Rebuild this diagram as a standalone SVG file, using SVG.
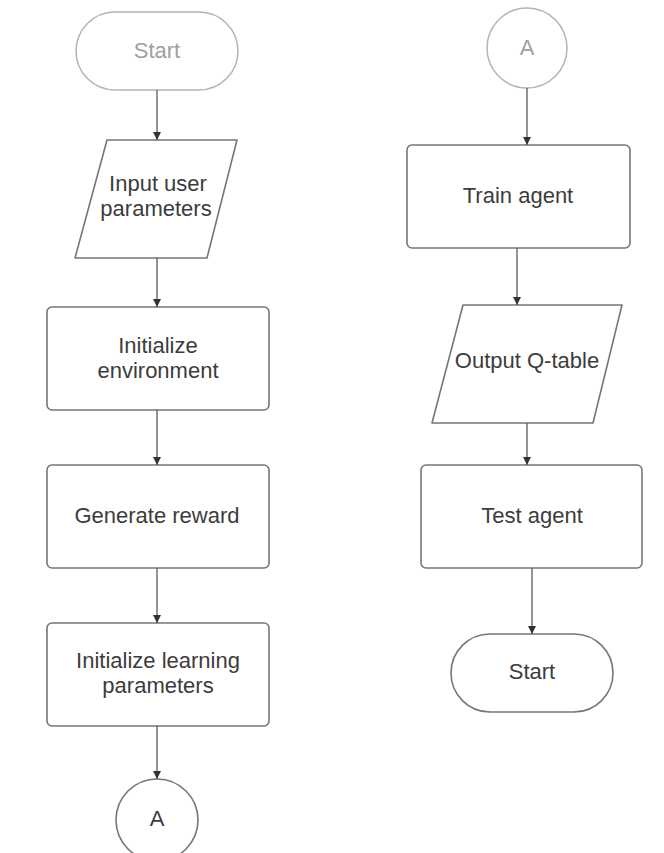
<svg xmlns="http://www.w3.org/2000/svg" width="664" height="853" viewBox="0 0 664 853">
  <style>
    .shape { fill: #ffffff; stroke: #767676; stroke-width: 1.6; }
    .faint { fill: #ffffff; stroke: #b4b4b4; stroke-width: 1.5; }
    .label { font-family: "Liberation Sans", Arial, sans-serif; font-size: 22px; fill: #3c3c3c; text-anchor: middle; }
    .label-faint { font-family: "Liberation Sans", Arial, sans-serif; font-size: 22px; fill: #a0a0a0; text-anchor: middle; }
    .conn { fill: none; stroke: #5a5a5a; stroke-width: 1.3; }
  </style>
  <defs>
    <marker id="arrow" viewBox="0 0 10 10" refX="10" refY="5" markerWidth="8" markerHeight="10" markerUnits="userSpaceOnUse" orient="auto">
      <path d="M0,0 L10,5 L0,10 z" fill="#333333"/>
    </marker>
  </defs>
  <rect width="664" height="853" fill="#ffffff"/>

  <!-- Left column -->
  <g id="start-top">
    <rect class="faint" x="76" y="12" width="162" height="78" rx="39" ry="39"/>
    <text class="label-faint" x="157" y="58">Start</text>
  </g>
  <g id="input-params">
    <path class="shape" d="M107,140 L237,140 L207,258 L75,258 Z" stroke-linejoin="round"/>
    <text class="label" x="158" y="191">Input user</text>
    <text class="label" x="156" y="216">parameters</text>
  </g>
  <g id="init-env">
    <rect class="shape" x="47" y="307" width="222" height="103" rx="5"/>
    <text class="label" x="158" y="353">Initialize</text>
    <text class="label" x="158" y="378">environment</text>
  </g>
  <g id="gen-reward">
    <rect class="shape" x="47" y="465" width="222" height="103" rx="5"/>
    <text class="label" x="157" y="523">Generate reward</text>
  </g>
  <g id="init-learning">
    <rect class="shape" x="47" y="623" width="222" height="103" rx="5"/>
    <text class="label" x="158" y="668">Initialize learning</text>
    <text class="label" x="158" y="693">parameters</text>
  </g>
  <g id="connector-a-out">
    <circle class="shape" cx="157" cy="820" r="41"/>
    <text class="label" x="157" y="826">A</text>
  </g>

  <!-- Right column -->
  <g id="connector-a-in">
    <circle class="faint" cx="527" cy="48" r="40"/>
    <text class="label-faint" x="527" y="55">A</text>
  </g>
  <g id="train-agent">
    <rect class="shape" x="407" y="145" width="223" height="103" rx="5"/>
    <text class="label" x="518" y="203">Train agent</text>
  </g>
  <g id="output-qtable">
    <path class="shape" d="M463,305 L622,305 L593,423 L432,423 Z" stroke-linejoin="round"/>
    <text class="label" x="527" y="368">Output Q-table</text>
  </g>
  <g id="test-agent">
    <rect class="shape" x="421" y="465" width="221" height="103" rx="5"/>
    <text class="label" x="532" y="523">Test agent</text>
  </g>
  <g id="start-end">
    <rect class="shape" x="451" y="634" width="162" height="78" rx="39" ry="39"/>
    <text class="label" x="532" y="679">Start</text>
  </g>

  <!-- Connectors -->
  <g id="connectors">
    <line class="conn" x1="157" y1="90" x2="157" y2="140" marker-end="url(#arrow)"/>
    <line class="conn" x1="157" y1="258" x2="157" y2="307" marker-end="url(#arrow)"/>
    <line class="conn" x1="157" y1="410" x2="157" y2="465" marker-end="url(#arrow)"/>
    <line class="conn" x1="157" y1="568" x2="157" y2="623" marker-end="url(#arrow)"/>
    <line class="conn" x1="157" y1="726" x2="157" y2="779" marker-end="url(#arrow)"/>
    <line class="conn" x1="527" y1="88" x2="527" y2="145" marker-end="url(#arrow)"/>
    <line class="conn" x1="517" y1="248" x2="517" y2="305" marker-end="url(#arrow)"/>
    <line class="conn" x1="527" y1="423" x2="527" y2="465" marker-end="url(#arrow)"/>
    <line class="conn" x1="532" y1="568" x2="532" y2="634" marker-end="url(#arrow)"/>
  </g>
</svg>
